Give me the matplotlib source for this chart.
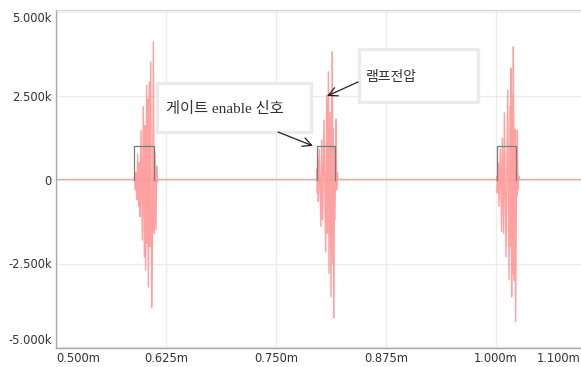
import matplotlib
matplotlib.use("Agg")
import matplotlib.pyplot as plt
from matplotlib.patches import Rectangle

plt.rcParams["font.family"] = ["DejaVu Sans"]

# time in ms, voltage in kV
burst1_t = [0.5890, 0.5894, 0.5901, 0.5909, 0.5917, 0.5928, 0.5939, 0.5947, 0.5954, 0.5966,
            0.5981, 0.5992, 0.6004, 0.6011, 0.6019, 0.6030, 0.6038, 0.6042, 0.6049, 0.6060,
            0.6068, 0.6076, 0.6087, 0.6098, 0.6106, 0.6117, 0.6125, 0.6136, 0.6144, 0.6151, 0.6159]
burst1_v = [0.0, 0.1, -0.3, 0.2, -0.6, 0.75, -0.8, 0.5, -1.1, 1.47,
            -1.8, 2.17, -2.3, 1.6, -2.7, 2.8, -1.9, 2.4, -3.2, 2.9,
            -2.0, 3.5, -3.8, -1.2, 4.1, -1.6, 0.8, -1.5, 0.4, -0.1, 0.0]

burst2_t = [0.7962, 0.7966, 0.7970, 0.7977, 0.7981, 0.7992, 0.8011, 0.8019, 0.8030, 0.8045,
            0.8064, 0.8076, 0.8083, 0.8095, 0.8102, 0.8114, 0.8125, 0.8133, 0.8136, 0.8140,
            0.8148, 0.8151, 0.8155, 0.8163, 0.8170, 0.8182, 0.8189, 0.8197, 0.8205]
burst2_v = [0.0, 0.3, -0.4, 0.6, -0.66, 0.9, -1.4, 1.18, -1.2, 1.77,
            -2.15, 2.51, -1.6, 3.21, -2.8, 2.0, -3.49, 2.6, -2.0, 3.8,
            -2.5, 1.5, -4.12, 1.0, -1.2, 1.8, -0.3, 0.2, 0.0]

burst3_t = [1.0008, 1.0010, 1.0015, 1.0027, 1.0034, 1.0049, 1.0064, 1.0072, 1.0087, 1.0095,
            1.0114, 1.0133, 1.0148, 1.0159, 1.0167, 1.0170, 1.0178, 1.0186, 1.0193, 1.0197,
            1.0208, 1.0216, 1.0223, 1.0235, 1.0239, 1.0242, 1.0250, 1.0258, 1.0265]
burst3_v = [0.0, 0.1, -0.4, 0.49, -0.8, 0.9, -1.55, 1.23, -1.6, 1.98,
            -2.3, 2.66, -2.99, 2.2, -2.0, 3.31, -3.49, 2.5, -2.8, 3.95,
            -3.0, 1.5, -4.23, 0.8, -0.5, 1.47, -0.3, 0.1, 0.0]

gate_on = [0.5890, 0.7962, 1.0008]
gate_off = [0.6117, 0.8170, 1.0227]
gate_level = 1.0

xticks = [0.5, 0.625, 0.75, 0.875, 1.0]
xlabels = ["0.500m", "0.625m", "0.750m", "0.875m", "1.000m"]
yticks = [-5.0, -2.5, 0.0, 2.5, 5.0]
ylabels = ["-5.000k", "-2.500k", "0", "2.500k", "5.000k"]

lamp_t = [0.5] + burst1_t + burst2_t + burst3_t + [1.0966]
lamp_v = [0.0] + burst1_v + burst2_v + burst3_v + [0.0]

fig = plt.figure(figsize=(5.81, 3.67), dpi=100)
ax = fig.add_axes([56 / 581, 1 - 348 / 367, 1 - 56 / 581, 338 / 367])

ax.plot(lamp_t, lamp_v, color="#ff7a7a", lw=1.0, alpha=0.7, zorder=2)
for t0, t1 in zip(gate_on, gate_off):
    ax.plot([t0, t0, t1, t1], [0, gate_level, gate_level, 0], color="#7a7a7a", lw=0.9, zorder=3)

ax.set_xlim(0.5, 1.0966)
ax.set_ylim(-5.015, 5.045)
ax.set_xticks(xticks)
ax.set_xticklabels(xlabels)
ax.set_yticks(yticks)
ax.set_yticklabels(ylabels)
ax.tick_params(length=0, labelsize=8.3, labelcolor="#333333", pad=3)
ax.get_xticklabels()[0].set_ha("left")
ax.get_yticklabels()[0].set_va("bottom")
ax.get_yticklabels()[-1].set_va("top")
ax.text(1.0, -0.012, "1.100m", transform=ax.transAxes, ha="right", va="top",
        fontsize=8.3, color="#333333")

ax.grid(True, color="#ececec", lw=1)
ax.set_axisbelow(True)
for s in ["left", "bottom"]:
    ax.spines[s].set_color("#a8a8a8")
    ax.spines[s].set_linewidth(1)
ax.spines["top"].set_color("#d0d0d0")
ax.spines["right"].set_visible(False)

kfont = ["Liberation Serif", "Noto Sans CJK KR"]

# annotation boxes
ax.add_patch(Rectangle((0.6148, 1.414), 0.7898 - 0.6148, 2.872 - 1.414,
                       fc="white", ec="#ebebeb", lw=2.4, zorder=4))
ax.text(0.6250, 2.098, "게이트 enable 신호", family=kfont, fontsize=11,
        color="#333333", va="center", ha="left", zorder=5)
ax.add_patch(Rectangle((0.8443, 2.306), 0.9795 - 0.8443, 3.884 - 2.306,
                       fc="white", ec="#ebebeb", lw=2.4, zorder=4))
ax.text(0.8523, 3.050, "램프전압", family=kfont, fontsize=10,
        color="#333333", va="center", ha="left", zorder=5)

arrow = dict(arrowstyle="->", color="#222222", lw=0.9, mutation_scale=16,
             shrinkA=0, shrinkB=0)
ax.annotate("", xy=(0.7920, 1.0), xytext=(0.7523, 1.414), arrowprops=arrow, zorder=6)
ax.annotate("", xy=(0.8080, 2.485), xytext=(0.8432, 2.902), arrowprops=arrow, zorder=6)

fig.savefig("out.png", dpi=100)
